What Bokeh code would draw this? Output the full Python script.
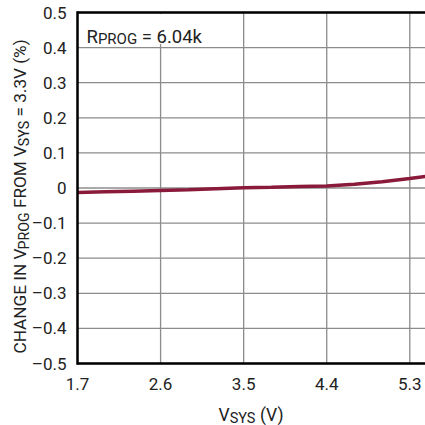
import math
from bokeh.plotting import figure
from bokeh.models import Range1d, Label, BoxAnnotation
from bokeh.core.properties import value
from bokeh.embed import file_html
from bokeh.resources import INLINE

# V_PROG change relative to V_SYS = 3.3V, R_PROG = 6.04k
vsys = [1.7, 2.0, 2.3, 2.6, 2.9, 3.2, 3.5, 3.8, 4.1, 4.4, 4.7, 5.0, 5.3, 5.5]
change_pct = [-0.013, -0.011, -0.009, -0.007, -0.005, -0.002, 0.001, 0.002,
              0.004, 0.006, 0.011, 0.018, 0.027, 0.034]

x_ticks = [1.7, 2.6, 3.5, 4.4, 5.3]
x_tick_labels = ["1.7", "2.6", "3.5", "4.4", "5.3"]
y_ticks = [-0.5, -0.4, -0.3, -0.2, -0.1, 0.0, 0.1, 0.2, 0.3, 0.4, 0.5]
y_tick_labels = ["\u20130.5", "\u20130.4", "\u20130.3", "\u20130.2", "\u20130.1",
                 "0", "0.1", "0.2", "0.3", "0.4", "0.5"]

FONT = "Roboto"
TXT = "#222222"
W, H = 425, 425
# plot area in canvas pixels: left, top, bottom margins
LEFT, TOP, BOTTOM = 77, 12, 62
X0, X1 = 1.7, 5.47
Y0, Y1 = -0.5, 0.5
kx = (X1 - X0) / (W - LEFT)
ky = (Y1 - Y0) / (H - TOP - BOTTOM)

# the frame spans the whole canvas; the margins are part of the data space
p = figure(width=W, height=H, output_backend="svg", toolbar_location=None,
           x_range=Range1d(X0 - LEFT * kx, X1),
           y_range=Range1d(Y0 - BOTTOM * ky, Y1 + TOP * ky),
           x_axis_location=None, y_axis_location=None,
           min_border=0, background_fill_color="white",
           border_fill_color="white")
p.outline_line_color = None
p.grid.visible = False

# grid
GRID = "#8c8c8c"
p.segment(x0=x_ticks, y0=[Y0] * len(x_ticks), x1=x_ticks, y1=[Y1] * len(x_ticks),
          line_color=GRID, line_width=1.3)
p.segment(x0=[X0] * len(y_ticks), y0=y_ticks, x1=[X1 + 0.1] * len(y_ticks),
          y1=y_ticks, line_color=GRID, line_width=1.3)

# data curve
p.line(vsys, change_pct, line_color="#8a1a3a", line_width=3.5)

# legend box with the R_PROG value
p.add_layout(BoxAnnotation(left=X0 + 0.02, right=2.99, top=Y1 - 0.004,
                           bottom=0.41, fill_color="white", fill_alpha=1.0,
                           line_color=None))

# frame: left, bottom and top edges
p.segment(x0=[X0, X0, X0], y0=[Y0 - 0.0035, Y0, Y1],
          x1=[X0, X1 + 0.1, X1 + 0.1], y1=[Y1 + 0.0035, Y0, Y1],
          line_color="black", line_width=2.5)

# tick labels
p.text(x=[X0] * len(y_ticks), y=y_ticks, text=y_tick_labels, x_offset=-11,
       text_align="right", text_baseline="middle", text_font=value(FONT),
       text_font_size="17px", text_color=TXT)
p.text(x=x_ticks, y=[Y0] * len(x_ticks), text=x_tick_labels, y_offset=20,
       text_align="center", text_baseline="middle", text_font=value(FONT),
       text_font_size="17px", text_color=TXT)

# approximate Roboto advance widths (em) for laying out sub-scripted titles
ADV = {"A": .652, "C": .653, "E": .565, "F": .554, "G": .682, "H": .697,
       "I": .272, "M": .853, "N": .697, "O": .688, "P": .631, "R": .616,
       "S": .595, "V": .637, "Y": .600, " ": .248, "=": .547, ".": .262,
       "(": .341, ")": .348, "%": .732, "0": .562, "3": .562, "4": .562,
       "6": .562, "k": .507}


def width(text, size):
    return sum(ADV.get(ch, .56) for ch in text) * size


def put(text, px, py, size, angle=0.0):
    # px, py: canvas pixels from the top-left corner
    p.add_layout(Label(x=px, y=py, x_units="canvas", y_units="canvas",
                       text=text, angle=angle, text_font=FONT,
                       text_font_size=f"{size}px", text_color=TXT,
                       text_align="left", text_baseline="alphabetic"))


def run(parts, px, py, main, sub, drop, vertical=False):
    """Lay out a run of (text, is_subscript) parts one after another."""
    pos = px if not vertical else py
    step = -1 if vertical else 1
    for text, is_sub in parts:
        size = sub if is_sub else main
        body = text.lstrip(" ")
        pos += step * width(text[:len(text) - len(body)], size)
        if vertical:
            put(body, px + (drop if is_sub else 0), pos, size, angle=math.pi / 2)
        else:
            put(body, pos, py + (drop if is_sub else 0), size)
        pos += step * width(body, size)


run([("R", False), ("PROG", True), (" = 6.04k", False)], 86, 36, 18.5, 15, 2.5)
run([("V", False), ("SYS", True), (" (V)", False)], 218, 414.5, 17.5, 14.5, 3)
run([("CHANGE IN V", False), ("PROG", True), (" FROM V", False), ("SYS", True),
     (" = 3.3V (%)", False)], 19, 353, 17.2, 14.2, 4, vertical=True)

open("out.html", "w").write(file_html(p, INLINE))
